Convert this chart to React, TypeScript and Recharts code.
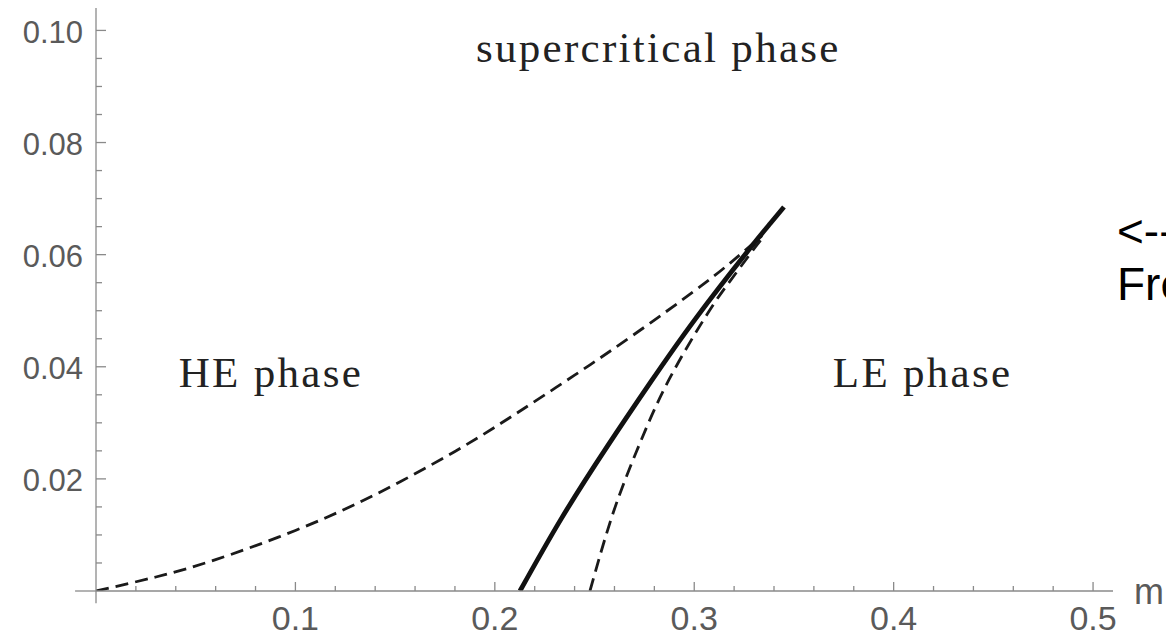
import React from "react"
import { LineChart, Line, XAxis, YAxis, ReferenceLine, ReferenceDot } from "recharts"

// solid line: first-order transition
const solidX = [0.2126, 0.2335, 0.2564, 0.2782, 0.3007, 0.327, 0.338, 0.345]
const solidY = [0, 0.013, 0.0258, 0.0373, 0.0486, 0.0607, 0.0655, 0.0685]

// dashed spinodal, HE side
const heX = [0, 0.03, 0.06, 0.1, 0.14, 0.18, 0.21, 0.24, 0.27, 0.3, 0.318, 0.334]
const heY = [0, 0.0025, 0.0056, 0.0108, 0.0172, 0.0249, 0.0315, 0.0385, 0.0458, 0.0535, 0.0585, 0.0634]

// dashed spinodal, LE side
const leX = [0.2477, 0.2594, 0.2721, 0.2872, 0.3067, 0.3186, 0.3301, 0.335]
const leY = [0, 0.014, 0.0258, 0.0376, 0.0495, 0.0556, 0.0611, 0.0633]

const xTicks = [0.02, 0.04, 0.06, 0.08, 0.1, 0.12, 0.14, 0.16, 0.18, 0.2, 0.22, 0.24, 0.26, 0.28, 0.3, 0.32, 0.34, 0.36, 0.38, 0.4, 0.42, 0.44, 0.46, 0.48, 0.5]
const yTicks = [0.005, 0.01, 0.015, 0.02, 0.025, 0.03, 0.035, 0.04, 0.045, 0.05, 0.055, 0.06, 0.065, 0.07, 0.075, 0.08, 0.085, 0.09, 0.095, 0.1]

const phaseLabels = [
  { text: "supercritical phase", x: 0.191, y: 0.0941 },
  { text: "HE phase", x: 0.042, y: 0.0362 },
  { text: "LE phase", x: 0.37, y: 0.0362 },
]

const toRows = (xs: number[], ys: number[]) => xs.map((x, i) => ({ x, y: ys[i] }))

const axisGrey = "#8a8a8a"
const labelGrey = "#5a5a5a"
const serif = "'Liberation Serif', 'Times New Roman', serif"
const sans = "'Liberation Sans', Arial, sans-serif"

function XTick(props: any) {
  const { x, y, payload } = props
  const v = payload.value
  const major = Math.abs(v * 10 - Math.round(v * 10)) < 1e-6
  return (
    <g>
      <line x1={x} x2={x} y1={y} y2={y - (major ? 9 : 5)} stroke={axisGrey} strokeWidth={1.3} />
      {major && (
        <text x={x} y={y + 39} textAnchor="middle" fontFamily={sans} fontSize={34} fill={labelGrey}>
          {v.toFixed(1)}
        </text>
      )}
    </g>
  )
}

function YTick(props: any) {
  const { x, y, payload } = props
  const v = payload.value
  const major = Math.abs(v * 50 - Math.round(v * 50)) < 1e-6
  return (
    <g>
      <line x1={x} x2={x + (major ? 10 : 6)} y1={y} y2={y} stroke={axisGrey} strokeWidth={1.3} />
      {major && (
        <text x={x - 13} y={y + 2} textAnchor="end" dominantBaseline="central" fontFamily={sans} fontSize={31} fill={labelGrey}>
          {v.toFixed(2)}
        </text>
      )}
    </g>
  )
}

export default function App() {
  return (
    <div style={{ position: "absolute", left: 0, top: 0, width: 1166, height: 636, overflow: "hidden", background: "#fff" }}>
      <LineChart width={1166} height={636} margin={{ top: 8, right: 53, bottom: 0, left: 0 }}>
        <XAxis
          type="number"
          dataKey="x"
          domain={[0, 0.51]}
          ticks={xTicks}
          height={45}
          tickSize={0}
          tickMargin={0}
          tickLine={false}
          tick={<XTick />}
          interval={0}
          axisLine={{ stroke: axisGrey, strokeWidth: 1.3 }}
          allowDataOverflow
        />
        <YAxis
          type="number"
          domain={[0, 0.104]}
          ticks={yTicks}
          width={96}
          tickSize={0}
          tickMargin={0}
          tickLine={false}
          tick={<YTick />}
          interval={0}
          axisLine={{ stroke: axisGrey, strokeWidth: 1.3 }}
          allowDataOverflow
        />
        <ReferenceLine segment={[{ x: -0.0105, y: 0 }, { x: 0, y: 0 }]} stroke={axisGrey} strokeWidth={1.3} ifOverflow="visible" />
        <ReferenceLine segment={[{ x: 0, y: -0.0022 }, { x: 0, y: 0 }]} stroke={axisGrey} strokeWidth={1.3} ifOverflow="visible" />
        <Line data={toRows(heX, heY)} dataKey="y" type="natural" stroke="#1a1a1a" strokeWidth={2.8} strokeDasharray="13 7" dot={false} isAnimationActive={false} />
        <Line data={toRows(leX, leY)} dataKey="y" type="natural" stroke="#1a1a1a" strokeWidth={2.8} strokeDasharray="13 7" dot={false} isAnimationActive={false} />
        <Line data={toRows(solidX, solidY)} dataKey="y" type="natural" stroke="#111" strokeWidth={4.8} dot={false} isAnimationActive={false} />
        {phaseLabels.map((p) => (
          <ReferenceDot
            key={p.text}
            x={p.x}
            y={p.y}
            r={1}
            fill="none"
            stroke="none"
            ifOverflow="visible"
            label={(lp: any) => (
              <text x={lp.viewBox.x} y={lp.viewBox.y} fontFamily={serif} fontSize={43} letterSpacing={2.3} fill="#222">
                {p.text}
              </text>
            )}
          />
        ))}
        <ReferenceDot
          x={0.51}
          y={0}
          r={1}
          fill="none"
          stroke="none"
          ifOverflow="visible"
          label={(lp: any) => (
            <text x={lp.viewBox.x + 22} y={lp.viewBox.y + 14} fontFamily={sans} fontSize={36} fill={labelGrey}>
              m
            </text>
          )}
        />
      </LineChart>
      <div style={{ position: "absolute", left: 1117, top: 205, fontFamily: sans, fontSize: 46, lineHeight: "53px", color: "#000", whiteSpace: "nowrap" }}>
        <div>{"<---"}</div>
        <div>Fre</div>
      </div>
    </div>
  )
}
